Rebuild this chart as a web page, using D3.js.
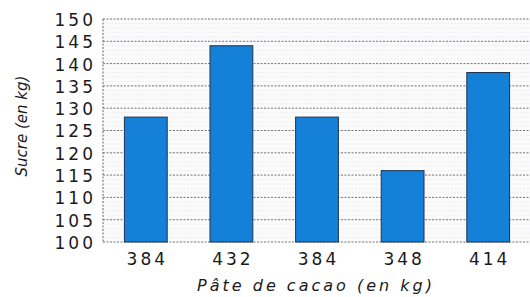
<!DOCTYPE html>
<html>
<head>
<meta charset="utf-8">
<script src="https://cdn.jsdelivr.net/npm/d3@7"></script>
<style>
	body { margin: 0; background: #fff; }
	.tick text { font-family: "DejaVu Sans", sans-serif; font-size: 17px; letter-spacing: 3px; fill: #1a1a1a; }
	.title { font-family: "DejaVu Sans", sans-serif; font-style: italic; fill: #1a1a1a; }
</style>
</head>
<body>
<svg id="chart" width="530" height="297"></svg>
<script>
var categories = ['384', '432', '384', '348', '414'];
var values = [128, 144, 128, 116, 138];
var yTicks = [100, 105, 110, 115, 120, 125, 130, 135, 140, 145, 150];

var margin = { left: 103, right: -1, top: 19, bottom: 55 },
	width = 530 - margin.left - margin.right,
	height = 297 - margin.top - margin.bottom;

var svg = d3.select('#chart'),
	g = svg.append('g').attr('transform', 'translate(' + margin.left + ',' + margin.top + ')');

var x = d3.scaleBand()
	.domain(d3.range(categories.length))
	.range([0, width])
	.paddingInner(0.5)
	.paddingOuter(0.25);

var y = d3.scaleLinear()
	.domain([100, 150])
	.range([height, 0]);

// plot background with faint minor lines and dotted major lines
g.append('rect')
	.attr('width', width).attr('height', height)
	.attr('fill', '#fbfbfc');

g.append('g').selectAll('line')
	.data(d3.range(100, 151, 1))
	.enter().append('line')
	.attr('x1', 0).attr('x2', width)
	.attr('y1', function (d) { return y(d); })
	.attr('y2', function (d) { return y(d); })
	.attr('stroke', '#e2e2e6')
	.attr('stroke-width', 0.5)
	.attr('stroke-dasharray', '2,1');

g.append('g').selectAll('line')
	.data(yTicks)
	.enter().append('line')
	.attr('x1', 0).attr('x2', width)
	.attr('y1', function (d) { return y(d); })
	.attr('y2', function (d) { return y(d); })
	.attr('stroke', '#777')
	.attr('stroke-width', 1)
	.attr('stroke-dasharray', '2,1.5');

// left border line
g.append('line')
	.attr('x1', 0).attr('x2', 0).attr('y1', 0).attr('y2', height)
	.attr('stroke', '#666').attr('stroke-dasharray', '2,1.5');

// bars
g.append('g').selectAll('rect')
	.data(values)
	.enter().append('rect')
	.attr('x', function (d, i) { return x(i); })
	.attr('y', function (d) { return y(d); })
	.attr('width', x.bandwidth())
	.attr('height', function (d) { return height - y(d); })
	.attr('fill', '#1580d8')
	.attr('stroke', '#1d3550')
	.attr('stroke-width', 1);

// axes
var yAxis = g.append('g')
	.call(d3.axisLeft(y).tickValues(yTicks).tickSize(0).tickPadding(7));
yAxis.select('.domain').remove();
yAxis.selectAll('.tick text').attr('dy', '0.38em');

var xAxis = g.append('g')
	.attr('transform', 'translate(0,' + height + ')')
	.call(d3.axisBottom(x).tickFormat(function (i) { return categories[i]; }).tickSize(0).tickPadding(11));
xAxis.select('.domain').remove();
xAxis.selectAll('.tick text').attr('dx', '1.5');

g.append('text')
	.attr('class', 'title')
	.attr('x', 213)
	.attr('y', height + 49)
	.attr('text-anchor', 'middle')
	.style('font-size', '16px')
	.style('letter-spacing', '3px')
	.text('Pâte de cacao (en kg)');

svg.append('text')
	.attr('class', 'title')
	.attr('transform', 'translate(27,126) rotate(-90)')
	.attr('text-anchor', 'middle')
	.style('font-size', '15px')
	.style('letter-spacing', '0px')
	.text('Sucre (en kg)');
</script>
</body>
</html>
